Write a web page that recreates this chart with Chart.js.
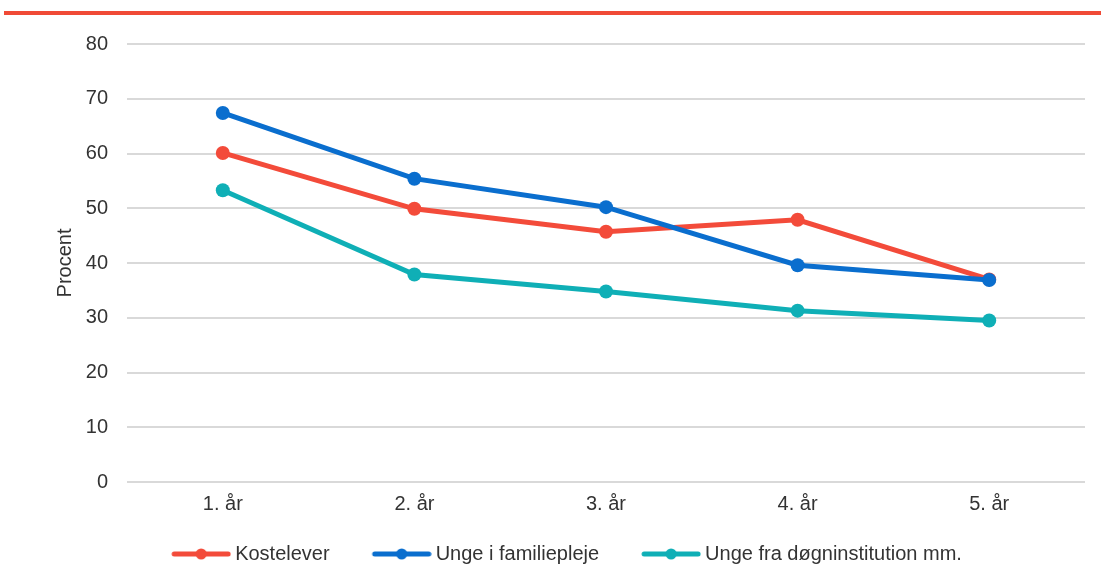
<!DOCTYPE html>
<html>
<head>
<meta charset="utf-8">
<script src="https://cdn.jsdelivr.net/npm/chart.js@4/dist/chart.umd.min.js"></script>
<style>
  html, body { margin: 0; padding: 0; background: #ffffff; }
  #wrap { position: relative; width: 1101px; height: 586px; }
  #topbar { position: absolute; left: 4px; top: 11px; width: 1097px; height: 4px; background: #F04A36; }
  canvas { position: absolute; left: 0; top: 0; }
</style>
</head>
<body>
<div id="wrap">
  <div id="topbar"></div>
  <canvas id="c" width="1101" height="586"></canvas>
</div>
<script>
const categories = ['1. år', '2. år', '3. år', '4. år', '5. år'];
const kostelever = [60.1, 49.9, 45.7, 47.9, 37.0];
const familiepleje = [67.4, 55.4, 50.2, 39.6, 36.9];
const doegninstitution = [53.3, 37.9, 34.8, 31.3, 29.5];
const seriesNames = ['Kostelever', 'Unge i familiepleje', 'Unge fra døgninstitution mm.'];
const seriesColors = ['#F34B3A', '#0A6ECE', '#0FAFB6'];
const yTicks = [0, 10, 20, 30, 40, 50, 60, 70, 80];

const FONT = 'Liberation Sans, Arial, sans-serif';
const TEXT = '#333333';

// legend marker: line with dot, drawn in the right part of a wider transparent image
function markerImage(color) {
  const cv = document.createElement('canvas');
  cv.width = 101; cv.height = 14;
  const g = cv.getContext('2d');
  g.strokeStyle = color; g.lineWidth = 5; g.lineCap = 'round';
  g.beginPath(); g.moveTo(44, 7); g.lineTo(98, 7); g.stroke();
  g.fillStyle = color;
  g.beginPath(); g.arc(71, 7, 5.5, 0, Math.PI * 2); g.fill();
  return cv;
}
const markers = seriesColors.map(markerImage);

const legendShiftPlugin = {
  id: 'legendShift',
  afterLayout(chart) {
    const lg = chart.legend;
    if (lg) { lg.left -= 18; lg.right -= 18; }
  }
};

new Chart(document.getElementById('c'), {
  type: 'line',
  data: {
    labels: categories,
    datasets: [
      { label: seriesNames[0], data: kostelever, borderColor: seriesColors[0], backgroundColor: seriesColors[0], order: 3 },
      { label: seriesNames[1], data: familiepleje, borderColor: seriesColors[1], backgroundColor: seriesColors[1], order: 1 },
      { label: seriesNames[2], data: doegninstitution, borderColor: seriesColors[2], backgroundColor: seriesColors[2], order: 2 }
    ].map(d => Object.assign(d, {
      borderWidth: 5, pointRadius: 7, pointBorderWidth: 0, pointBackgroundColor: d.borderColor,
      tension: 0, fill: false
    }))
  },
  options: {
    responsive: false,
    animation: false,
    layout: { padding: { top: 44, left: 49, right: 16, bottom: 12 } },
    font: { family: FONT },
    plugins: {
      tooltip: { enabled: false },
      legend: {
        position: 'bottom',
        labels: {
          usePointStyle: true,
          pointStyleWidth: 89,
          padding: 7,
          color: TEXT,
          font: { family: FONT, size: 20 },
          generateLabels(chart) {
            return chart.data.datasets.map((ds, i) => ({
              text: ds.label,
              fillStyle: ds.borderColor,
              strokeStyle: ds.borderColor,
              fontColor: TEXT,
              lineWidth: 0,
              pointStyle: markers[i],
              hidden: false,
              datasetIndex: i
            }));
          }
        }
      }
    },
    scales: {
      x: {
        offset: true,
        grid: { display: false, drawTicks: false },
        border: { display: false },
        ticks: { color: TEXT, font: { family: FONT, size: 20 }, padding: 10 },
        afterFit(scale) { scale.height = 55; }
      },
      y: {
        min: 0, max: 80,
        afterBuildTicks(scale) { scale.ticks = yTicks.map(v => ({ value: v })); },
        grid: { color: '#d9d9d9', lineWidth: 2, drawTicks: false },
        border: { display: false },
        ticks: { color: TEXT, font: { family: FONT, size: 20 }, padding: 19 },
        title: { display: true, text: 'Procent', color: TEXT, font: { family: FONT, size: 20 }, padding: { top: 4, bottom: 4 } },
        afterFit(scale) { scale.width = 78; }
      }
    }
  },
  plugins: [legendShiftPlugin]
});
</script>
</body>
</html>
